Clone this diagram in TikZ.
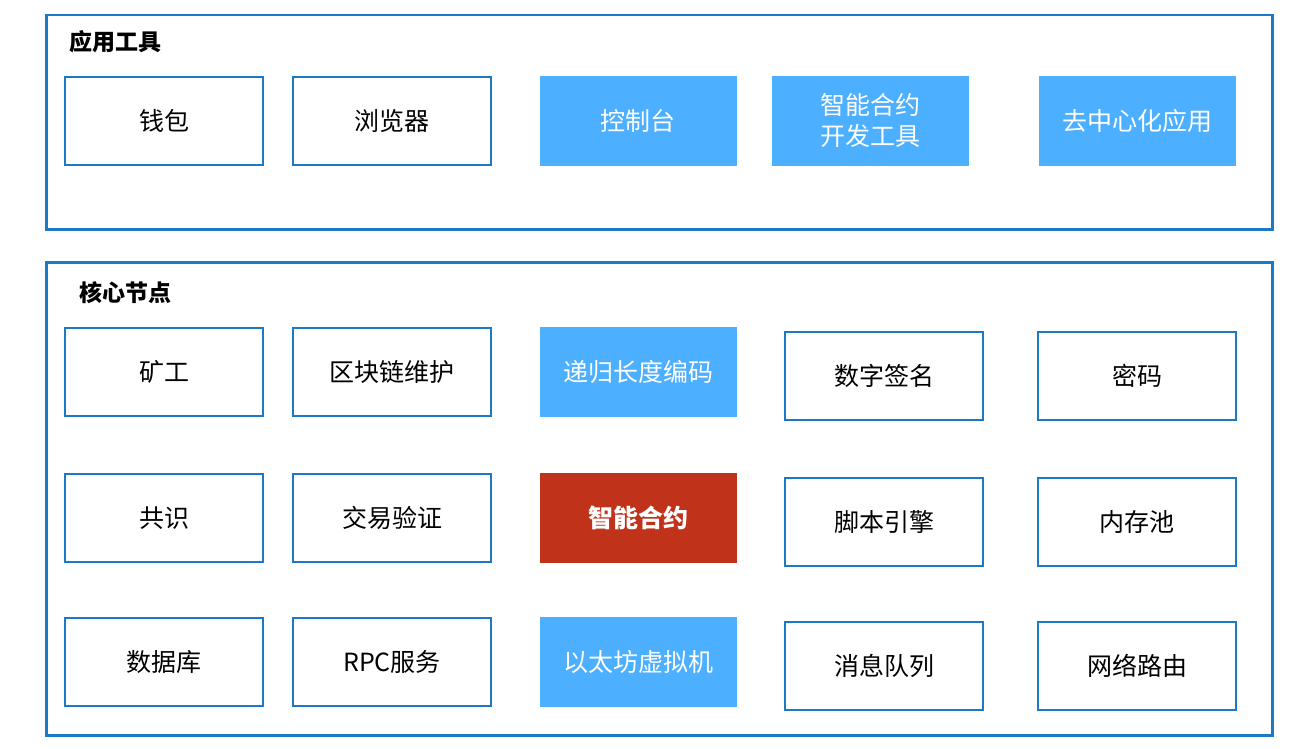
\documentclass[tikz,border=0pt]{standalone}
\usepackage{fontspec}
\setmainfont{Noto Sans CJK SC}
\usetikzlibrary{positioning}
\definecolor{frameblue}{HTML}{1E78C8}
\definecolor{lightblue}{HTML}{4DAFFF}
\definecolor{contractred}{HTML}{C0321A}
\begin{document}
\begin{tikzpicture}[x=1pt,y=-1pt,
    layer/.style={rectangle, draw=frameblue, line width=2.5pt},
    plain/.style={rectangle, draw=frameblue, line width=2.5pt, fill=white, minimum width=198pt, minimum height=88pt, align=center, font=\fontsize{25}{31}\selectfont},
    filled/.style={rectangle, fill=lightblue, text=white, minimum width=197pt, minimum height=90pt, align=center, font=\fontsize{25}{31}\selectfont},
    hot/.style={filled, fill=contractred, font=\bfseries\fontsize{25}{31}\selectfont},
    title/.style={anchor=west, font=\bfseries\fontsize{23}{28}\selectfont}
]
\useasboundingbox (0,0) rectangle (1311,749);

% Layer frames
\node [layer, minimum width=1226pt, minimum height=214pt, anchor=north west] (apps) at (45,14) {};
\node [layer, minimum width=1226pt, minimum height=473pt, anchor=north west] (core) at (45,261) {};
\node [title] (appstitle) at (66,42) {应用工具};
\node [title] (coretitle) at (76,293) {核心节点};

% Application tools
\node [plain] (wallet) at (164,121) {钱包};
\node [plain] (browser) at (392,121) {浏览器};
\node [filled] (console) at (638,121) {控制台};
\node [filled] (devtools) at (870,121) {智能合约\\开发工具};
\node [filled] (dapp) at (1137,121) {去中心化应用};

% Core node, first row
\node [plain] (miner) at (164,372) {矿工};
\node [plain] (maintain) at (392,372) {区块链维护};
\node [filled] (rlp) at (638,372) {递归长度编码};
\node [plain] (signature) at (884,376) {数字签名};
\node [plain] (crypto) at (1137,376) {密码};

% second row
\node [plain] (consensus) at (164,518) {共识};
\node [plain] (txcheck) at (392,518) {交易验证};
\node [hot] (contract) at (638,518) {智能合约};
\node [plain] (script) at (884,522) {脚本引擎};
\node [plain] (mempool) at (1137,522) {内存池};

% third row
\node [plain] (database) at (164,662) {数据库};
\node [plain] (rpc) at (392,662) {RPC服务};
\node [filled] (evm) at (638,662) {以太坊虚拟机};
\node [plain] (queue) at (884,666) {消息队列};
\node [plain] (routing) at (1137,666) {网络路由};

\end{tikzpicture}
\end{document}
